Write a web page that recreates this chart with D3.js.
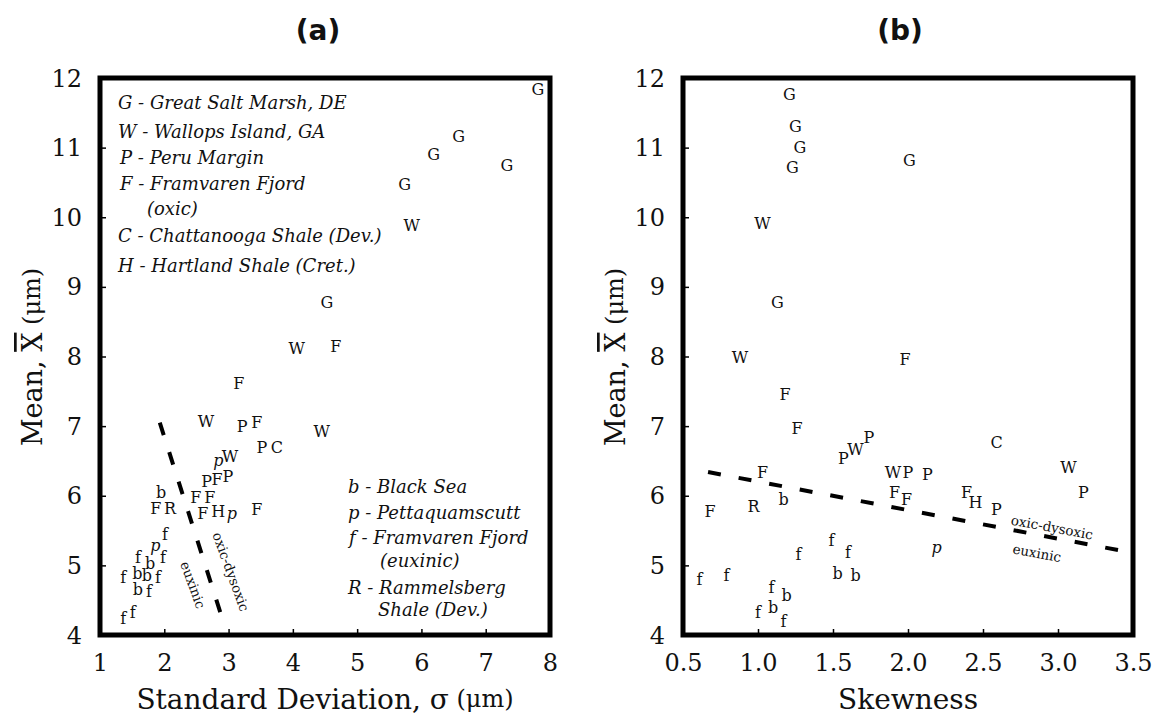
<!DOCTYPE html>
<html>
<head>
<meta charset="utf-8">
<script src="https://cdn.jsdelivr.net/npm/d3@7"></script>
<style>
body{margin:0;background:#fff}
svg text{font-family:"DejaVu Serif",serif;fill:#111}
</style>
</head>
<body>
<div id="chart"></div>
<script>
// (a) standard deviation vs mean, one letter per sample
var sdLabels=["G","G","G","G","G","W","G","W","F","F","W","P","F","W","P","C","p","W","P","F","P","b","F","F","F","R","F","H","p","F",
	"f","p","f","b","f","f","b","b","f","b","f","f","f"];
var sdValues=[7.81,6.58,6.19,7.33,5.74,5.85,4.53,4.06,4.67,3.16,2.65,3.21,3.44,4.45,3.52,3.75,2.84,3.02,2.66,2.82,2.99,1.95,2.49,2.71,1.87,2.09,2.60,2.84,3.05,3.44,
	2.01,1.86,1.59,1.78,1.98,1.36,1.58,1.73,1.90,1.59,1.76,1.36,1.51];
var sdMeans=[11.83,11.16,10.90,10.75,10.47,9.88,8.78,8.11,8.14,7.61,7.06,6.99,7.05,6.92,6.70,6.70,6.51,6.56,6.20,6.23,6.27,6.05,5.97,5.98,5.81,5.82,5.75,5.77,5.75,5.80,
	5.44,5.29,5.12,5.03,5.12,4.82,4.89,4.86,4.83,4.65,4.63,4.24,4.33];

// (b) skewness vs mean
var skLabels=["G","G","G","G","G","W","G","W","F","F","F","P","W","P","C","W","P","P","W","P","F","F","F","H","P","p",
	"F","F","R","b","f","f","f","b","b","f","f","f","b","b","f","f"];
var skValues=[1.21,1.25,1.28,1.23,2.01,1.03,1.13,0.88,1.98,1.18,1.26,1.57,1.65,1.74,2.59,1.90,2.00,2.13,3.07,3.17,1.91,1.99,2.39,2.45,2.59,2.19,
	1.03,0.68,0.97,1.17,1.49,1.27,1.60,1.53,1.65,0.61,0.79,1.09,1.19,1.10,1.00,1.17];
var skMeans=[11.76,11.30,11.00,10.72,10.81,9.91,8.77,7.98,7.95,7.45,6.97,6.54,6.67,6.83,6.76,6.33,6.34,6.30,6.40,6.04,6.04,5.94,6.04,5.91,5.80,5.26,
	6.34,5.77,5.84,5.94,5.36,5.15,5.18,4.89,4.86,4.79,4.86,4.68,4.57,4.39,4.32,4.19];

// axis ticks
var sdTicks=[1,2,3,4,5,6,7,8];
var skTicks=[0.5,1,1.5,2,2.5,3,3.5];
var meanTicks=[4,5,6,7,8,9,10,11,12];

// oxic-dysoxic / euxinic boundary lines
var sdBoundX=[1.93,2.87], sdBoundY=[7.05,4.33];
var skBoundX=[0.667,3.40], skBoundY=[6.34,5.22];

var legendTop=["G - Great Salt Marsh, DE","W - Wallops Island, GA","P - Peru Margin","F - Framvaren Fjord","(oxic)","C - Chattanooga Shale (Dev.)","H - Hartland Shale (Cret.)"];
var legendBottom=["b - Black Sea","p - Pettaquamscutt","f - Framvaren Fjord","(euxinic)","R - Rammelsberg","Shale (Dev.)"];

var svg=d3.select("#chart").append("svg").attr("width",1155).attr("height",716)
	.style("background","#fff");

function panel(o){
	var g=svg.append("g");
	var x=d3.scaleLinear().domain([o.xTicks[0],o.xTicks[o.xTicks.length-1]]).range([o.left,o.right]);
	var y=d3.scaleLinear().domain([4,12]).range([635,78]);

	var xa=g.append("g").attr("transform","translate(0,635)")
		.call(d3.axisBottom(x).tickValues(o.xTicks).tickSize(-6).tickFormat(o.xFmt));
	xa.select(".domain").remove();
	xa.selectAll("line").attr("stroke-width",1.5);
	xa.selectAll("text").attr("y",28).attr("dy",null).attr("dominant-baseline","central").style("font-size","24px");

	var ya=g.append("g").attr("transform","translate("+o.left+",0)")
		.call(d3.axisLeft(y).tickValues(meanTicks).tickSize(-6).tickFormat(d3.format("d")));
	ya.select(".domain").remove();
	ya.selectAll("line").attr("stroke-width",1.5);
	ya.selectAll("text").attr("x",-18).attr("dy",null).attr("dominant-baseline","central").style("font-size","24px");

	g.append("rect")
		.attr("x",o.left).attr("y",y(12))
		.attr("width",o.right-o.left).attr("height",y(4)-y(12))
		.attr("fill","none").attr("stroke","#000").attr("stroke-width",5);

	g.selectAll("text.pt").data(o.labels).enter().append("text")
		.attr("class","pt")
		.attr("x",function(d,i){return x(o.xs[i]);})
		.attr("y",function(d,i){return y(o.ys[i]);})
		.attr("text-anchor","middle").attr("dominant-baseline","central")
		.style("font-size","16px")
		.style("font-style",function(d){return d=="p"?"italic":null;})
		.text(function(d){return d;});

	// dashed boundary, gap chosen so the last dash ends at the line end
	var x1=x(o.bx[0]),y1=y(o.by[0]),x2=x(o.bx[1]),y2=y(o.by[1]);
	var len=Math.sqrt((x2-x1)*(x2-x1)+(y2-y1)*(y2-y1)), dash=13;
	var gap=(len-dash)/o.nDash-dash;
	g.append("line")
		.attr("x1",x1).attr("y1",y1).attr("x2",x2).attr("y2",y2)
		.attr("stroke","#000").attr("stroke-width",4).attr("stroke-dasharray",dash+","+gap);

	o.notes.forEach(function(n){
		g.append("text")
			.attr("transform","translate("+x(n[1])+","+y(n[2])+") rotate("+n[3]+")")
			.attr("text-anchor","middle").attr("dominant-baseline","central")
			.style("font-size","13.5px").text(n[0]);
	});

	// axis titles
	var xt=g.append("text").attr("x",(o.left+o.right)/2).attr("y",699)
		.attr("text-anchor","middle").attr("dominant-baseline","central").style("font-size","28px");
	xt.append("tspan").text(o.xTitle);
	if(o.xUnit) xt.append("tspan").style("font-size","24px").text(" (\u03bcm)");

	var yt=g.append("text").attr("transform","translate("+o.yTitleX+",357) rotate(-90)")
		.attr("text-anchor","middle").attr("dominant-baseline","central").style("font-size","27px");
	yt.append("tspan").text("Mean, ");
	yt.append("tspan").style("text-decoration","overline").text("X");
	yt.append("tspan").style("font-size","24px").text(" (\u03bcm)");

	g.append("text").attr("x",o.titleX).attr("y",30)
		.attr("text-anchor","middle").attr("dominant-baseline","central")
		.style("font-family","'DejaVu Sans',sans-serif").style("font-weight","bold").style("font-size","28px")
		.text(o.title);
	return g;
}

var ga=panel({left:100,right:550,xTicks:sdTicks,xFmt:d3.format("d"),
	labels:sdLabels,xs:sdValues,ys:sdMeans,bx:sdBoundX,by:sdBoundY,nDash:6,
	notes:[["euxinic",2.45,4.72,70],["oxic-dysoxic",3.04,4.91,70]],
	xTitle:"Standard Deviation, \u03c3",xUnit:true,yTitleX:32,titleX:318,title:"(a)"});

var gb=panel({left:683,right:1133,xTicks:skTicks,xFmt:d3.format(".1f"),
	labels:skLabels,xs:skValues,ys:skMeans,bx:skBoundX,by:skBoundY,nDash:13,
	notes:[["oxic-dysoxic",2.96,5.55,10.5],["euxinic",2.86,5.18,10.5]],
	xTitle:"Skewness",xUnit:false,yTitleX:615,titleX:900,title:"(b)"});

// legend blocks of panel (a)
var topPos=[[118,102],[118,131],[120,157],[120,183],[147,208],[118,235],[118,265]];
ga.selectAll("text.lgTop").data(legendTop).enter().append("text")
	.attr("class","lgTop")
	.attr("x",function(d,i){return topPos[i][0];})
	.attr("y",function(d,i){return topPos[i][1];})
	.attr("dominant-baseline","central")
	.style("font-style","italic").style("font-size","18px")
	.text(function(d){return d;});

var botPos=[[348,486],[348,512],[349,537],[380,560],[348,587],[378,609]];
ga.selectAll("text.lgBot").data(legendBottom).enter().append("text")
	.attr("class","lgBot")
	.attr("x",function(d,i){return botPos[i][0];})
	.attr("y",function(d,i){return botPos[i][1];})
	.attr("dominant-baseline","central")
	.style("font-style","italic").style("font-size","18px")
	.text(function(d){return d;});
</script>
</body>
</html>
